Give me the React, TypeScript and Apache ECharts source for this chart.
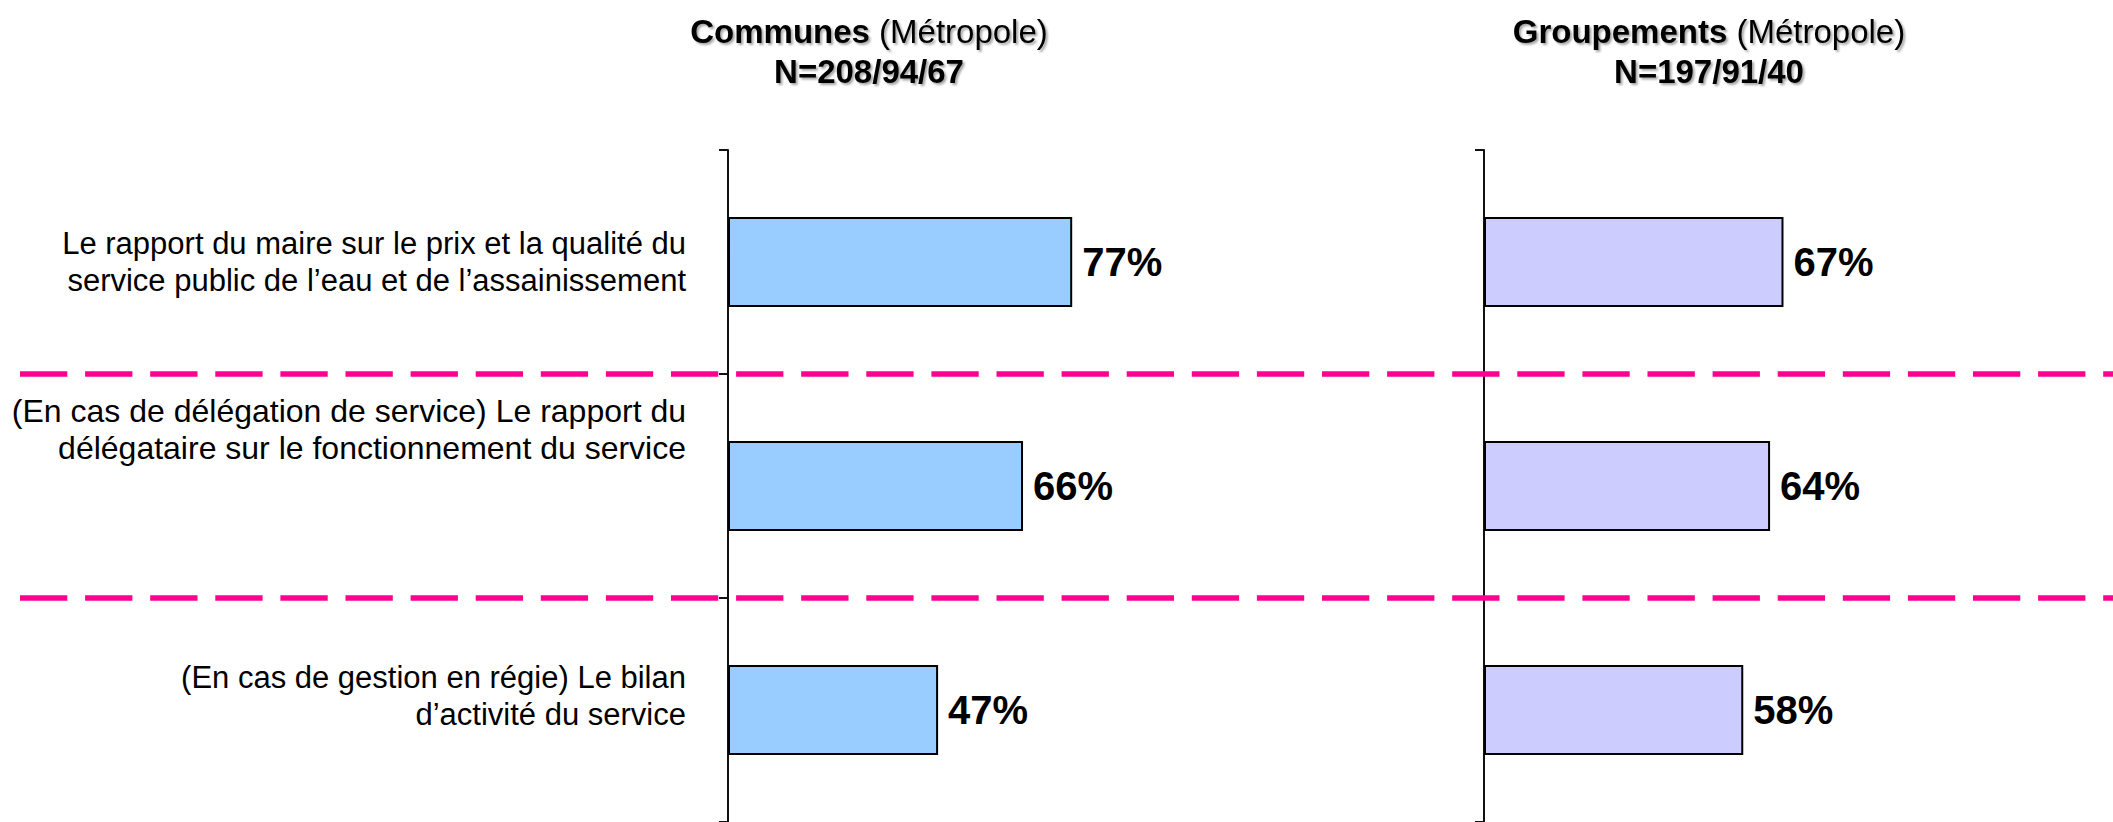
import React, { useEffect, useRef } from "react";
import * as echarts from "echarts";

// ---- data ----
const categories = [
  "Le rapport du maire sur le prix et la qualité du\nservice public de l’eau et de l’assainissement",
  "(En cas de délégation de service) Le rapport du\ndélégataire sur le fonctionnement du service",
  "(En cas de gestion en régie) Le bilan\nd’activité du service",
];
const communesValues = [77, 66, 47];
const groupementsValues = [67, 64, 58];
const panelNames = ["Communes", "Groupements"];
const panelScope = ["(Métropole)", "(Métropole)"];
const panelSizes = ["N=208/94/67", "N=197/91/40"];

// ---- layout / style ----
const FONT = "'Liberation Sans', Arial, Helvetica, sans-serif";
const W = 2113;
const H = 822;
const labelLift = [0, 57, 14];
const labelFontSizes = [31, 32, 31];
const titleCenters = [869, 1709];
const gridLefts = [728, 1484];
const barColors = ["#99CCFF", "#CCCCFF"];
const PINK = "#FF0090";

export default function App() {
  const ref = useRef<HTMLDivElement | null>(null);

  useEffect(() => {
    if (!ref.current) return;
    const chart = echarts.init(ref.current, null, { renderer: "svg" });

    const shadow = {
      textShadowColor: "rgba(0,0,0,0.35)",
      textShadowOffsetX: 2,
      textShadowOffsetY: 2,
      textShadowBlur: 2,
    };

    const titles = panelNames.map((name, i) => ({
      text: `{b|${name}} {r|${panelScope[i]}}\n{b|${panelSizes[i]}}`,
      left: titleCenters[i],
      top: 11,
      textAlign: "center",
      padding: 0,
      textStyle: {
        fontFamily: FONT,
        fontSize: 33,
        lineHeight: 40,
        color: "#000",
        rich: {
          b: { fontFamily: FONT, fontSize: 33, lineHeight: 40, fontWeight: "bold", color: "#000", ...shadow },
          r: { fontFamily: FONT, fontSize: 33, lineHeight: 40, fontWeight: "normal", color: "#000", ...shadow },
        },
      },
    }));

    const labelRich: any = {};
    labelLift.forEach((lift, i) => {
      labelRich["t" + i] = { fontFamily: FONT, fontSize: labelFontSizes[i], lineHeight: 37, color: "#000" };
      labelRich["sp" + i] = { fontSize: 1, lineHeight: Math.max(1, lift * 2) };
    });

    const axisCommon = {
      type: "category",
      inverse: true,
      axisLine: { show: true, lineStyle: { color: "#111", width: 2 } },
      axisTick: { show: true, length: 9, lineStyle: { color: "#111", width: 2 } },
      splitLine: { show: false },
    };

    const option: any = {
      animation: false,
      backgroundColor: "#ffffff",
      textStyle: { fontFamily: FONT },
      title: titles,
      grid: gridLefts.map((left) => ({ left, top: 150, width: 447, height: 675, containLabel: false })),
      xAxis: gridLefts.map((_, i) => ({ gridIndex: i, type: "value", min: 0, max: 100, show: false })),
      yAxis: [
        {
          ...axisCommon,
          gridIndex: 0,
          data: categories,
          axisLabel: {
            show: true,
            margin: 42,
            color: "#000",
            fontFamily: FONT,
            fontSize: 31,
            lineHeight: 37,
            align: "right",
            formatter: (value: string, index: number) => {
              const body = value
                .split("\n")
                .map((l) => `{t${index}|${l}}`)
                .join("\n");
              return labelLift[index] ? `${body}\n{sp${index}| }` : body;
            },
            rich: labelRich,
          },
        },
        {
          ...axisCommon,
          gridIndex: 1,
          data: categories,
          axisLabel: { show: false },
        },
      ],
      series: [communesValues, groupementsValues].map((vals, i) => ({
        type: "bar",
        xAxisIndex: i,
        yAxisIndex: i,
        data: vals,
        barWidth: 90,
        itemStyle: { color: barColors[i], borderColor: "#000", borderWidth: 2 },
        label: {
          show: true,
          position: "right",
          distance: 10,
          formatter: "{c}%",
          fontSize: 40,
          fontWeight: "bold",
          color: "#000",
          fontFamily: FONT,
        },
      })),
    };

    chart.setOption(option);

    // dashed separators at the category band boundaries
    const centers = categories.map((_, i) => chart.convertToPixel({ yAxisIndex: 0 }, i) as number);
    const lines = [];
    for (let i = 0; i < centers.length - 1; i++) {
      const y = (centers[i] + centers[i + 1]) / 2;
      lines.push({
        type: "line",
        z: 100,
        shape: { x1: 20, y1: y, x2: W, y2: y },
        style: { stroke: PINK, lineWidth: 5.5, lineDash: [47.3, 17.8] },
      });
    }
    chart.setOption({ graphic: lines });

    return () => chart.dispose();
  }, []);

  return (
    <div
      ref={ref}
      style={{ position: "fixed", left: 0, top: 0, width: W, height: H, background: "#fff" }}
    />
  );
}
